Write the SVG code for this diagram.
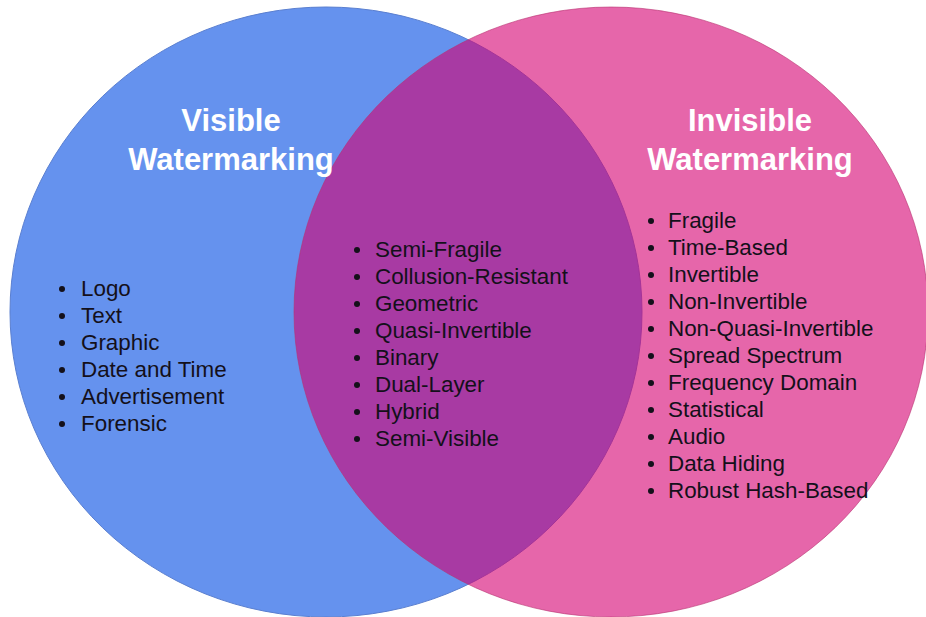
<svg xmlns="http://www.w3.org/2000/svg" width="926" height="617" viewBox="0 0 926 617">
  <style>
    .title { font-family: "Liberation Sans", Arial, sans-serif; font-weight: bold; font-size: 31px; fill: #ffffff; text-anchor: middle; }
    .item { font-family: "Liberation Sans", Arial, sans-serif; font-size: 22.4px; fill: #14101a; }
    .dot { fill: #14101a; }
  </style>
  <rect width="926" height="617" fill="#ffffff"/>

  <!-- Visible watermarking set -->
  <g id="visible">
    <ellipse cx="326" cy="312" rx="316" ry="305" fill="#6592EE" stroke="#5a7fd0" stroke-width="1"/>
  </g>

  <!-- Invisible watermarking set, translucent so the overlap reads purple -->
  <g id="invisible">
    <ellipse cx="611" cy="312" rx="317" ry="305" fill="#D50071" fill-opacity="0.6" stroke="#b8306f" stroke-opacity="0.6" stroke-width="1"/>
  </g>

  <g id="visible-labels">
    <text class="title" x="231" y="131">Visible</text>
    <text class="title" x="231" y="170">Watermarking</text>
    <g>
      <circle class="dot" cx="62" cy="289" r="3"/>
      <circle class="dot" cx="62" cy="316" r="3"/>
      <circle class="dot" cx="62" cy="343" r="3"/>
      <circle class="dot" cx="62" cy="370" r="3"/>
      <circle class="dot" cx="62" cy="397" r="3"/>
      <circle class="dot" cx="62" cy="424" r="3"/>
    </g>
    <text class="item" x="81" y="296">Logo</text>
    <text class="item" x="81" y="323">Text</text>
    <text class="item" x="81" y="350">Graphic</text>
    <text class="item" x="81" y="377">Date and Time</text>
    <text class="item" x="81" y="404">Advertisement</text>
    <text class="item" x="81" y="431">Forensic</text>
  </g>

  <g id="shared-labels">
    <g>
      <circle class="dot" cx="357" cy="250" r="3"/>
      <circle class="dot" cx="357" cy="277" r="3"/>
      <circle class="dot" cx="357" cy="304" r="3"/>
      <circle class="dot" cx="357" cy="331" r="3"/>
      <circle class="dot" cx="357" cy="358" r="3"/>
      <circle class="dot" cx="357" cy="385" r="3"/>
      <circle class="dot" cx="357" cy="412" r="3"/>
      <circle class="dot" cx="357" cy="439" r="3"/>
    </g>
    <text class="item" x="375" y="257">Semi-Fragile</text>
    <text class="item" x="375" y="284">Collusion-Resistant</text>
    <text class="item" x="375" y="311">Geometric</text>
    <text class="item" x="375" y="338">Quasi-Invertible</text>
    <text class="item" x="375" y="365">Binary</text>
    <text class="item" x="375" y="392">Dual-Layer</text>
    <text class="item" x="375" y="419">Hybrid</text>
    <text class="item" x="375" y="446">Semi-Visible</text>
  </g>

  <g id="invisible-labels">
    <text class="title" x="750" y="131">Invisible</text>
    <text class="title" x="750" y="170">Watermarking</text>
    <g>
      <circle class="dot" cx="651" cy="221" r="3"/>
      <circle class="dot" cx="651" cy="248" r="3"/>
      <circle class="dot" cx="651" cy="275" r="3"/>
      <circle class="dot" cx="651" cy="302" r="3"/>
      <circle class="dot" cx="651" cy="329" r="3"/>
      <circle class="dot" cx="651" cy="356" r="3"/>
      <circle class="dot" cx="651" cy="383" r="3"/>
      <circle class="dot" cx="651" cy="410" r="3"/>
      <circle class="dot" cx="651" cy="437" r="3"/>
      <circle class="dot" cx="651" cy="464" r="3"/>
      <circle class="dot" cx="651" cy="491" r="3"/>
    </g>
    <text class="item" x="668" y="228">Fragile</text>
    <text class="item" x="668" y="255">Time-Based</text>
    <text class="item" x="668" y="282">Invertible</text>
    <text class="item" x="668" y="309">Non-Invertible</text>
    <text class="item" x="668" y="336">Non-Quasi-Invertible</text>
    <text class="item" x="668" y="363">Spread Spectrum</text>
    <text class="item" x="668" y="390">Frequency Domain</text>
    <text class="item" x="668" y="417">Statistical</text>
    <text class="item" x="668" y="444">Audio</text>
    <text class="item" x="668" y="471">Data Hiding</text>
    <text class="item" x="668" y="498">Robust Hash-Based</text>
  </g>
</svg>
